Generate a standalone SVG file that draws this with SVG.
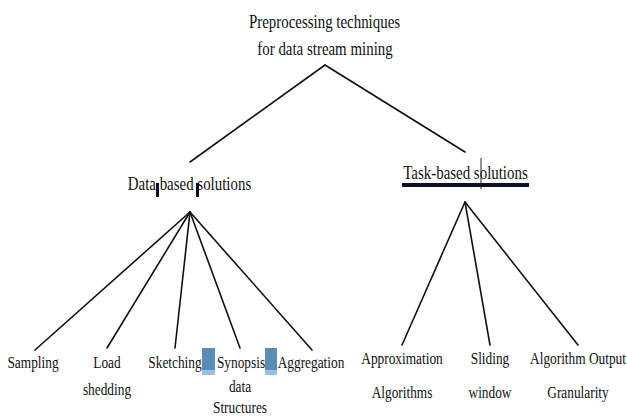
<svg xmlns="http://www.w3.org/2000/svg" width="627" height="419" viewBox="0 0 627 419">
<style>
text{font-family:"Liberation Serif","Times New Roman",serif;fill:#111;text-anchor:middle}
.t{font-size:19px}
.b{font-size:17px}
.c line{stroke:#111;stroke-width:1.6;stroke-linecap:round}
.hl{fill:#5a8cb8}
.hll{fill:#9dbfdc}
</style>
<rect width="627" height="419" fill="#fff"/>
<g class="c" id="connectors">
<line x1="325" y1="65" x2="190" y2="162"/>
<line x1="325" y1="65" x2="465" y2="152"/>
<line x1="190" y1="212" x2="35" y2="350"/>
<line x1="190" y1="212" x2="107" y2="348"/>
<line x1="190" y1="212" x2="175" y2="348"/>
<line x1="190" y1="212" x2="240" y2="348"/>
<line x1="190" y1="212" x2="312" y2="350"/>
<line x1="465" y1="202" x2="402" y2="345"/>
<line x1="465" y1="202" x2="490" y2="345"/>
<line x1="465" y1="202" x2="578" y2="345"/>
</g>
<g id="root">
<text class="t" transform="translate(324.5,28) scale(0.785,1)">Preprocessing techniques</text>
<text class="t" transform="translate(325,55) scale(0.785,1)">for data stream mining</text>
</g>
<g id="data-based">
<text class="t" transform="translate(189.5,190) scale(0.785,1)">Data based solutions</text>
<rect x="156" y="183" width="3" height="14" fill="#0c0c24"/>
<rect x="196" y="183" width="3" height="14" fill="#0c0c24"/>
</g>
<g id="task-based">
<text class="t" transform="translate(465.5,179) scale(0.785,1)">Task-based solutions</text>
<rect x="402" y="183" width="127" height="4" fill="#0c0c24"/>
<line x1="481" y1="158" x2="481" y2="189" stroke="#222" stroke-width="1"/>
</g>
<g id="sampling"><text class="b" transform="translate(33,368) scale(0.785,1)">Sampling</text></g>
<g id="load-shedding">
<text class="b" transform="translate(107,368) scale(0.785,1)">Load</text>
<text class="b" transform="translate(107,395) scale(0.785,1)">shedding</text>
</g>
<g id="sketching"><text class="b" transform="translate(175,368) scale(0.785,1)">Sketching</text></g>
<g id="hl1">
<rect class="hl" x="202" y="348" width="13" height="22"/>
<rect class="hll" x="202" y="370" width="13" height="5"/>
</g>
<g id="synopsis">
<text class="b" transform="translate(241,368) scale(0.785,1)">Synopsis</text>
<text class="b" transform="translate(240,392) scale(0.785,1)">data</text>
<text class="b" transform="translate(240,413) scale(0.785,1)">Structures</text>
</g>
<g id="hl2">
<rect class="hl" x="265" y="348" width="12" height="22"/>
<rect class="hll" x="265" y="370" width="12" height="5"/>
</g>
<g id="aggregation"><text class="b" transform="translate(311,368) scale(0.785,1)">Aggregation</text></g>
<g id="approximation">
<text class="b" transform="translate(402,364) scale(0.785,1)">Approximation</text>
<text class="b" transform="translate(402,398) scale(0.785,1)">Algorithms</text>
</g>
<g id="sliding">
<text class="b" transform="translate(490,364) scale(0.785,1)">Sliding</text>
<text class="b" transform="translate(490,398) scale(0.785,1)">window</text>
</g>
<g id="output-granularity">
<text class="b" transform="translate(578,364) scale(0.785,1)">Algorithm Output</text>
<text class="b" transform="translate(578,398) scale(0.785,1)">Granularity</text>
</g>
</svg>
